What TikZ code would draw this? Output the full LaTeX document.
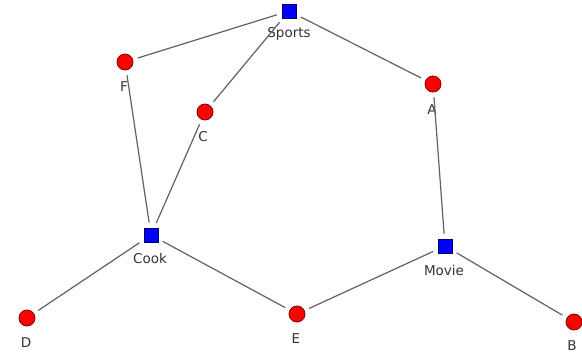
\documentclass[tikz,border=0pt]{standalone}
\usepackage{fontspec}
\setmainfont{DejaVu Sans}
\begin{document}
\begin{tikzpicture}[x=1pt,y=-1pt,
  rnode/.style={circle,draw=red!50!black,fill=red,line width=0.8pt,minimum size=16pt,inner sep=0pt},
  bnode/.style={rectangle,draw=blue!40!black,fill=blue,line width=0.8pt,minimum size=14pt,inner sep=0pt},
  lbl/.style={text=black!80,font=\fontsize{13.5}{15}\selectfont,inner sep=0pt},
  edge/.style={draw=black!62,line width=1.2pt,shorten >=5pt,shorten <=5pt}]
\useasboundingbox (0,0) rectangle (582,354);
\node[bnode] (sports) at (289,11) {};
\node[rnode] (f) at (125,62) {};
\node[rnode] (c) at (205,112) {};
\node[rnode] (a) at (433,84) {};
\node[bnode] (cook) at (151,235) {};
\node[bnode] (movie) at (445,246) {};
\node[rnode] (d) at (27,318) {};
\node[rnode] (e) at (297,314) {};
\node[rnode] (b) at (574,322) {};
\node[lbl] (ls) at (289,34) {Sports};
\node[lbl] (lf) at (124,87) {F};
\node[lbl] (lc) at (203,137) {C};
\node[lbl] (la) at (432,110) {A};
\node[lbl] (lcook) at (150,258) {Cook};
\node[lbl] (lmovie) at (444,270) {Movie};
\node[lbl] (ld) at (26,343) {D};
\node[lbl] (le) at (296,339) {E};
\node[lbl] (lb) at (572,346) {B};
\draw[edge] (sports) -- (f);
\draw[edge] (sports) -- (c);
\draw[edge] (sports) -- (a);
\draw[edge] (f) -- (cook);
\draw[edge] (c) -- (cook);
\draw[edge] (cook) -- (d);
\draw[edge] (cook) -- (e);
\draw[edge] (movie) -- (e);
\draw[edge] (movie) -- (a);
\draw[edge] (movie) -- (b);
\end{tikzpicture}
\end{document}
